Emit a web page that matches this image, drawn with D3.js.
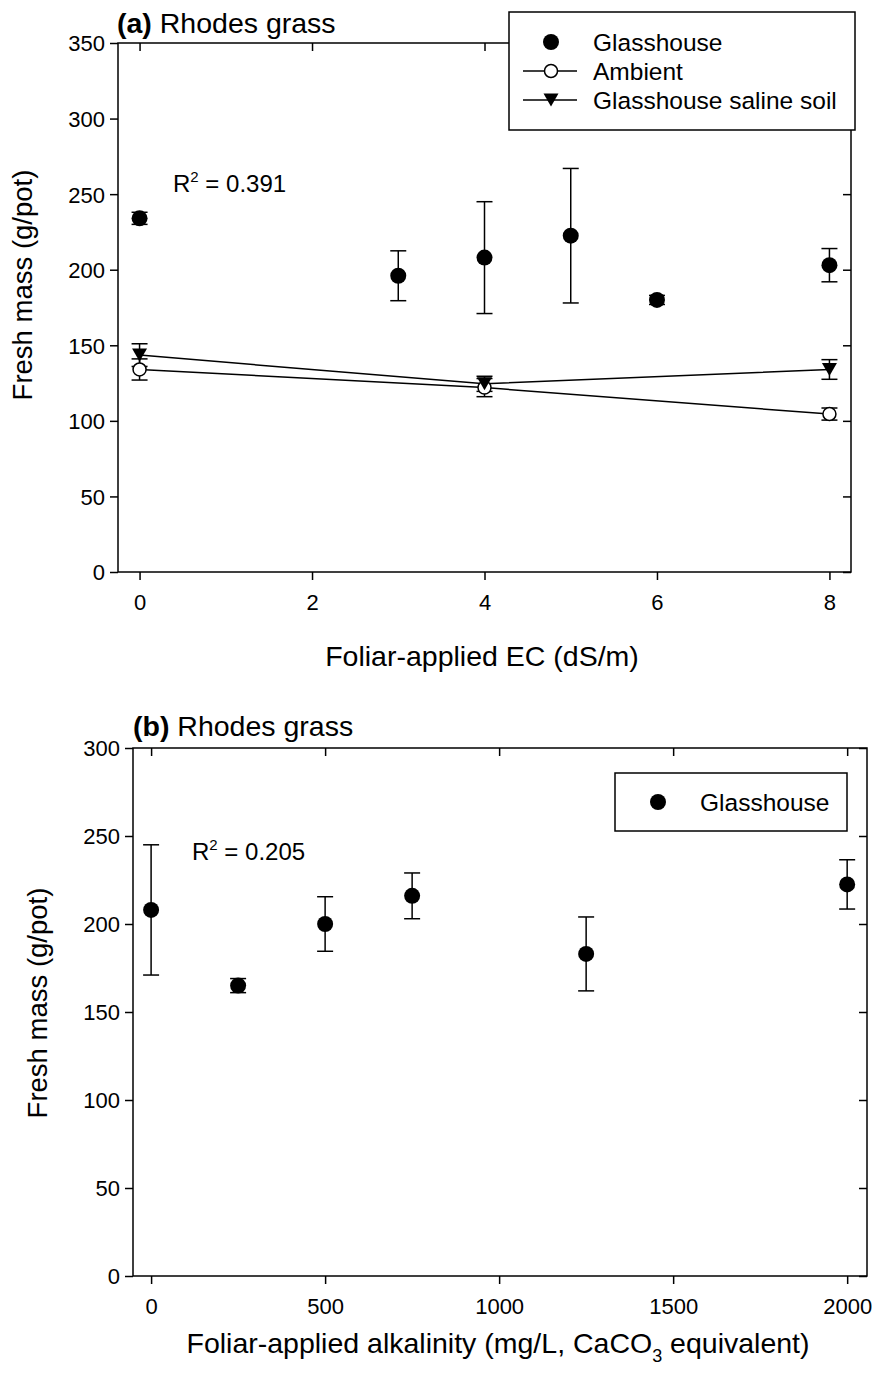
<!DOCTYPE html>
<meta charset="utf-8">
<script src="https://cdn.jsdelivr.net/npm/d3@7"></script>
<style>
  body { margin: 0; background: #fff; }
  text { font-family: "Liberation Sans", Arial, sans-serif; fill: #000; }
</style>
<div id="chart"></div>
<script>

  // ---- panel (a): fresh mass vs foliar-applied EC ----
  var ecGlassX = [0, 3, 4, 5, 6, 8];
  var ecGlassMean = [234, 196, 208, 222.5, 180, 203];
  var ecGlassErr = [4, 16.5, 37, 44.5, 3, 11];

  var ecAmbX = [0, 4, 8];
  var ecAmbMean = [134, 122, 104.5];
  var ecAmbErr = [7, 6, 4];

  var ecSalX = [0, 4, 8];
  var ecSalMean = [143.5, 124.5, 134];
  var ecSalErr = [7.5, 5, 6.5];

  var ecTicks = [0, 2, 4, 6, 8];
  var massTicksA = [0, 50, 100, 150, 200, 250, 300, 350];
  var legendA = ["Glasshouse", "Ambient", "Glasshouse saline soil"];

  // ---- panel (b): fresh mass vs foliar-applied alkalinity ----
  var alkX = [0, 250, 500, 750, 1250, 2000];
  var alkMean = [208, 165, 200, 216, 183, 222.5];
  var alkErr = [37, 4, 15.5, 13, 21, 14];

  var alkTicks = [0, 500, 1000, 1500, 2000];
  var massTicksB = [0, 50, 100, 150, 200, 250, 300];
  var legendB = ["Glasshouse"];

  var svg = d3.select("#chart")
    .append("svg")
      .attr("width", 877)
      .attr("height", 1376);

  // helpers
  function zip(xs, ms, es) {
    return xs.map(function(x, i) { return {x: x, y: ms[i], e: es[i]}; });
  }

  var triDown = "M-7.5,-6.5L7.5,-6.5L0,6.5Z";

  function drawFrame(x, y, xTicks, yTicks, tickFmt) {
    var x0 = x.range()[0], x1 = x.range()[1];
    var y0 = y.range()[0], y1 = y.range()[1];

    // mirrored inward ticks top and right
    svg.append("g")
      .attr("transform", "translate(0," + y1 + ")")
      .call(d3.axisTop(x).tickValues(xTicks).tickSize(-8).tickFormat(""))
      .call(function(g) { g.select(".domain").remove(); });
    svg.append("g")
      .attr("transform", "translate(" + x1 + ",0)")
      .call(d3.axisRight(y).tickValues(yTicks).tickSize(-8).tickFormat(""))
      .call(function(g) { g.select(".domain").remove(); });

    // outward ticks with labels bottom and left
    svg.append("g")
      .attr("transform", "translate(0," + y0 + ")")
      .call(d3.axisBottom(x).tickValues(xTicks).tickSize(8).tickPadding(14).tickFormat(tickFmt))
      .call(function(g) {
        g.select(".domain").remove();
        g.selectAll("text").style("font-size", "22px");
      });
    svg.append("g")
      .attr("transform", "translate(" + x0 + ",0)")
      .call(d3.axisLeft(y).tickValues(yTicks).tickSize(8).tickPadding(5))
      .call(function(g) {
        g.select(".domain").remove();
        g.selectAll("text").style("font-size", "22px").attr("dy", "0.36em");
      });
    svg.selectAll(".tick line").attr("stroke", "#000").attr("stroke-width", 1.5);

    svg.append("rect")
      .attr("x", x0).attr("y", y1)
      .attr("width", x1 - x0).attr("height", y0 - y1)
      .attr("fill", "none")
      .attr("stroke", "#000")
      .attr("stroke-width", 1.5);
  }

  function drawErrors(data, x, y) {
    var g = svg.append("g").attr("stroke", "#000").attr("stroke-width", 1.5);
    data.forEach(function(d) {
      var cx = x(d.x), top = y(d.y + d.e), bot = y(d.y - d.e);
      g.append("line").attr("x1", cx).attr("x2", cx).attr("y1", top).attr("y2", bot);
      g.append("line").attr("x1", cx - 8).attr("x2", cx + 8).attr("y1", top).attr("y2", top);
      g.append("line").attr("x1", cx - 8).attr("x2", cx + 8).attr("y1", bot).attr("y2", bot);
    });
  }

  function drawLine(data, x, y) {
    svg.append("path")
      .datum(data)
      .attr("fill", "none")
      .attr("stroke", "#000")
      .attr("stroke-width", 1.5)
      .attr("d", d3.line().x(function(d) { return x(d.x); }).y(function(d) { return y(d.y); }));
  }

  function drawDots(data, x, y, kind) {
    var g = svg.append("g");
    data.forEach(function(d) {
      if (kind == "filled") {
        g.append("circle").attr("cx", x(d.x)).attr("cy", y(d.y)).attr("r", 8).attr("fill", "#000");
      } else if (kind == "open") {
        g.append("circle").attr("cx", x(d.x)).attr("cy", y(d.y)).attr("r", 6.5)
          .attr("fill", "#fff").attr("stroke", "#000").attr("stroke-width", 1.5);
      } else {
        g.append("path").attr("d", triDown)
          .attr("transform", "translate(" + x(d.x) + "," + y(d.y) + ")")
          .attr("fill", "#000");
      }
    });
  }

  function title(xp, yp, tag) {
    var t = svg.append("text").attr("x", xp).attr("y", yp).style("font-size", "28.5px");
    t.append("tspan").style("font-weight", "bold").text(tag);
    t.append("tspan").text(" Rhodes grass");
  }

  function rsq(xp, yp, val) {
    var t = svg.append("text").attr("x", xp).attr("y", yp).style("font-size", "24px");
    t.append("tspan").text("R");
    t.append("tspan").attr("dy", -10).style("font-size", "15px").text("2");
    t.append("tspan").attr("dy", 10).text(" = " + val);
  }

  // ================= panel (a) =================
  var xA = d3.scaleLinear().domain([-0.25, 8.25]).range([118, 851]);
  var yA = d3.scaleLinear().domain([0, 350]).range([572, 43]);

  drawFrame(xA, yA, ecTicks, massTicksA, d3.format("d"));

  var amb = zip(ecAmbX, ecAmbMean, ecAmbErr);
  var sal = zip(ecSalX, ecSalMean, ecSalErr);
  var glass = zip(ecGlassX, ecGlassMean, ecGlassErr);

  drawLine(amb, xA, yA);
  drawLine(sal, xA, yA);
  drawErrors(glass, xA, yA);
  drawErrors(amb, xA, yA);
  drawErrors(sal, xA, yA);
  drawDots(glass, xA, yA, "filled");
  drawDots(amb, xA, yA, "open");
  drawDots(sal, xA, yA, "tri");

  title(117, 33, "(a)");
  rsq(173, 192, "0.391");

  svg.append("text")
    .attr("x", 482).attr("y", 666)
    .attr("text-anchor", "middle")
    .style("font-size", "28.5px")
    .text("Foliar-applied EC (dS/m)");
  svg.append("text")
    .attr("transform", "translate(32,285) rotate(-90)")
    .attr("text-anchor", "middle")
    .style("font-size", "27.5px")
    .text("Fresh mass (g/pot)");

  // legend (a)
  var legA = svg.append("g");
  legA.append("rect")
    .attr("x", 509).attr("y", 12).attr("width", 346).attr("height", 118)
    .attr("fill", "#fff").attr("stroke", "#000").attr("stroke-width", 1.5);
  var rowsA = [42, 71, 100];
  legA.append("circle").attr("cx", 551).attr("cy", rowsA[0]).attr("r", 8).attr("fill", "#000");
  legA.append("line").attr("x1", 523).attr("x2", 577).attr("y1", rowsA[1]).attr("y2", rowsA[1])
    .attr("stroke", "#000").attr("stroke-width", 1.5);
  legA.append("circle").attr("cx", 551).attr("cy", rowsA[1]).attr("r", 6.5)
    .attr("fill", "#fff").attr("stroke", "#000").attr("stroke-width", 1.5);
  legA.append("line").attr("x1", 523).attr("x2", 577).attr("y1", rowsA[2]).attr("y2", rowsA[2])
    .attr("stroke", "#000").attr("stroke-width", 1.5);
  legA.append("path").attr("d", triDown)
    .attr("transform", "translate(551," + rowsA[2] + ")").attr("fill", "#000");
  legA.selectAll("text.lab")
    .data(legendA)
    .enter()
    .append("text")
      .attr("class", "lab")
      .attr("x", 593)
      .attr("y", function(d, i) { return rowsA[i] + 8.5; })
      .style("font-size", "24.5px")
      .text(function(d) { return d; });

  // ================= panel (b) =================
  var xB = d3.scaleLinear().domain([-52, 2057]).range([133, 867]);
  var yB = d3.scaleLinear().domain([0, 300]).range([1276, 748]);

  drawFrame(xB, yB, alkTicks, massTicksB, d3.format("d"));

  var alkData = zip(alkX, alkMean, alkErr);
  drawErrors(alkData, xB, yB);
  drawDots(alkData, xB, yB, "filled");

  title(133, 736, "(b)");
  rsq(192, 860, "0.205");

  var xt = svg.append("text")
    .attr("x", 498).attr("y", 1353)
    .attr("text-anchor", "middle")
    .style("font-size", "28.5px");
  xt.append("tspan").text("Foliar-applied alkalinity (mg/L, CaCO");
  xt.append("tspan").attr("dy", 9).style("font-size", "18px").text("3");
  xt.append("tspan").attr("dy", -9).text(" equivalent)");

  svg.append("text")
    .attr("transform", "translate(47,1003) rotate(-90)")
    .attr("text-anchor", "middle")
    .style("font-size", "27.5px")
    .text("Fresh mass (g/pot)");

  // legend (b)
  var legB = svg.append("g");
  legB.append("rect")
    .attr("x", 615).attr("y", 773).attr("width", 232).attr("height", 58)
    .attr("fill", "#fff").attr("stroke", "#000").attr("stroke-width", 1.5);
  legB.append("circle").attr("cx", 658).attr("cy", 802).attr("r", 8).attr("fill", "#000");
  legB.selectAll("text")
    .data(legendB)
    .enter()
    .append("text")
      .attr("x", 700)
      .attr("y", 810.5)
      .style("font-size", "24.5px")
      .text(function(d) { return d; });

</script>
